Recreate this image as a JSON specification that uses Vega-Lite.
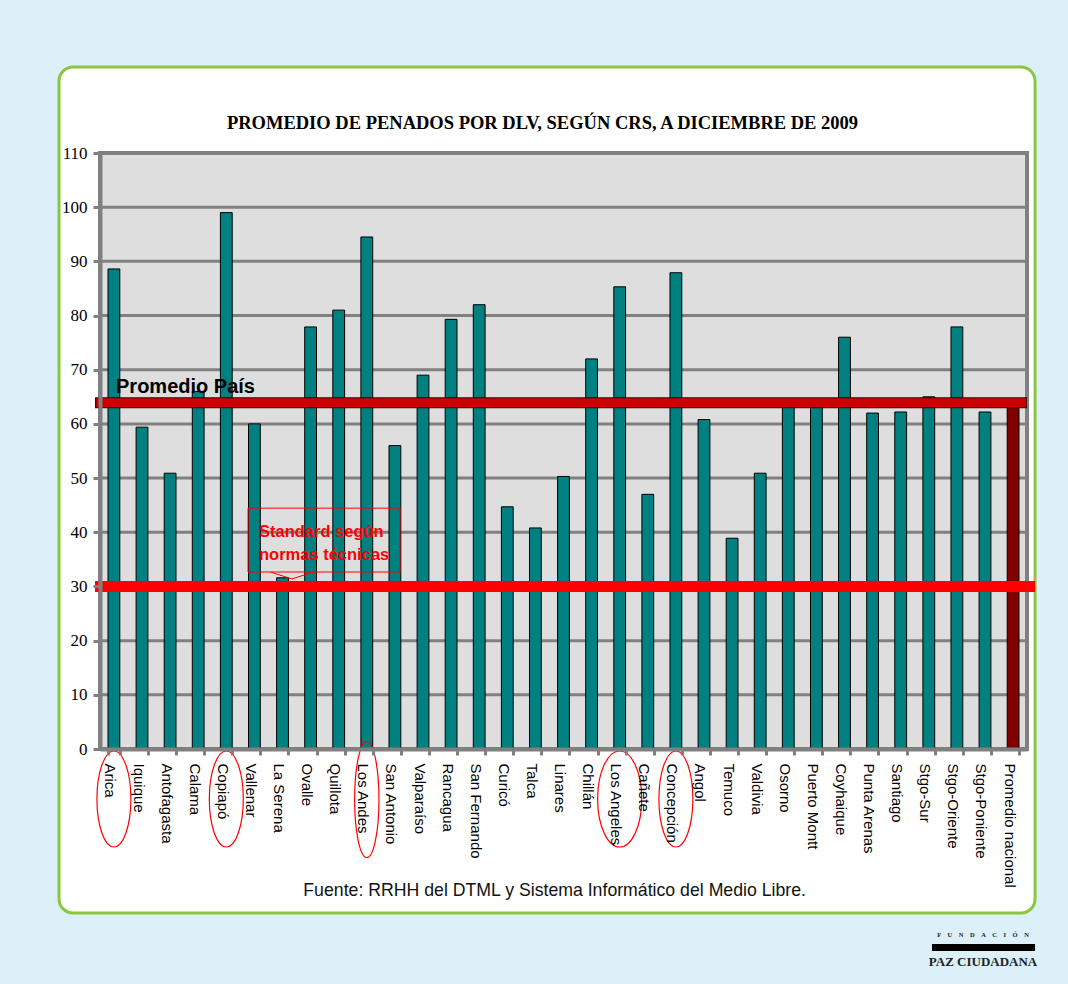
{
  "$schema": "https://vega.github.io/schema/vega-lite/v6.json",
  "width": 927,
  "height": 596,
  "autosize": "none",
  "padding": {"left": 100, "top": 153, "right": 41, "bottom": 235},
  "background": "#DCF0FA",
  "config": {
    "view": {"stroke": null}
  },
  "datasets": {
    "penados": [
      {"ciudad": "Arica", "valor": 88.6},
      {"ciudad": "Iquique", "valor": 59.4},
      {"ciudad": "Antofagasta", "valor": 50.9},
      {"ciudad": "Calama", "valor": 66.0},
      {"ciudad": "Copiapó", "valor": 99.0},
      {"ciudad": "Vallenar", "valor": 60.0},
      {"ciudad": "La Serena", "valor": 31.6},
      {"ciudad": "Ovalle", "valor": 77.9},
      {"ciudad": "Quillota", "valor": 81.0},
      {"ciudad": "Los Andes", "valor": 94.5},
      {"ciudad": "San Antonio", "valor": 56.0},
      {"ciudad": "Valparaíso", "valor": 69.0},
      {"ciudad": "Rancagua", "valor": 79.3},
      {"ciudad": "San Fernando", "valor": 82.0},
      {"ciudad": "Curicó", "valor": 44.7},
      {"ciudad": "Talca", "valor": 40.8},
      {"ciudad": "Linares", "valor": 50.3},
      {"ciudad": "Chillán", "valor": 72.0},
      {"ciudad": "Los Angeles", "valor": 85.3},
      {"ciudad": "Cañete", "valor": 47.0},
      {"ciudad": "Concepción", "valor": 87.9},
      {"ciudad": "Angol", "valor": 60.8},
      {"ciudad": "Temuco", "valor": 38.9},
      {"ciudad": "Valdivia", "valor": 50.9},
      {"ciudad": "Osorno", "valor": 63.5},
      {"ciudad": "Puerto Montt", "valor": 63.5},
      {"ciudad": "Coyhaique", "valor": 76.0},
      {"ciudad": "Punta Arenas", "valor": 62.0},
      {"ciudad": "Santiago", "valor": 62.2},
      {"ciudad": "Stgo-Sur", "valor": 65.0},
      {"ciudad": "Stgo-Oriente", "valor": 77.9},
      {"ciudad": "Stgo-Poniente", "valor": 62.2},
      {"ciudad": "Promedio nacional", "valor": 63.9}
    ],
    "grilla": [
      {"v": 10}, {"v": 20}, {"v": 30}, {"v": 40}, {"v": 50},
      {"v": 60}, {"v": 70}, {"v": 80}, {"v": 90}, {"v": 100}
    ],
    "destacadas": [
      {"ciudad": "Arica"}, {"ciudad": "Copiapó"}, {"ciudad": "Concepción"}
    ],
    "unico": [{}]
  },
  "layer": [
    {
      "data": {"name": "unico"},
      "mark": {"type": "rect", "fill": "#FFFFFF", "stroke": "#8CC63E", "strokeWidth": 3, "cornerRadius": 14},
      "encoding": {
        "x": {"datum": "Arica", "type": "nominal", "bandPosition": -4.15, "title": null},
        "x2": {"datum": "Promedio nacional", "bandPosition": 2.36},
        "y": {"datum": 125.87, "type": "quantitative", "title": null},
        "y2": {"datum": -30.27}
      }
    },
    {
      "data": {"name": "unico"},
      "mark": {"type": "text", "text": "PROMEDIO DE PENADOS POR DLV, SEGÚN CRS, A DICIEMBRE DE 2009", "font": "Liberation Serif", "fontSize": 18.5, "fontWeight": "bold", "color": "#000000", "align": "center", "baseline": "alphabetic"},
      "encoding": {
        "x": {"datum": "Talca", "type": "nominal", "bandPosition": 1.1, "title": null},
        "y": {"datum": 114.43, "type": "quantitative", "title": null}
      }
    },
    {
      "data": {"name": "unico"},
      "mark": {"type": "rect", "fill": "#DEDEDE", "stroke": "#808080", "strokeWidth": 4},
      "encoding": {
        "y": {"datum": 110, "type": "quantitative", "title": null},
        "y2": {"datum": 0}
      }
    },
    {
      "data": {"name": "grilla"},
      "mark": {"type": "rule", "stroke": "#808080", "strokeWidth": 3},
      "encoding": {
        "y": {"field": "v", "type": "quantitative", "title": null}
      }
    },
    {
      "data": {"name": "penados"},
      "mark": {"type": "bar", "stroke": "#000000", "strokeWidth": 1},
      "encoding": {
        "x": {
          "field": "ciudad", "type": "nominal", "sort": null, "title": null,
          "scale": {
            "domain": ["Arica", "Iquique", "Antofagasta", "Calama", "Copiapó", "Vallenar", "La Serena", "Ovalle", "Quillota", "Los Andes", "San Antonio", "Valparaíso", "Rancagua", "San Fernando", "Curicó", "Talca", "Linares", "Chillán", "Los Angeles", "Cañete", "Concepción", "Angol", "Temuco", "Valdivia", "Osorno", "Puerto Montt", "Coyhaique", "Punta Arenas", "Santiago", "Stgo-Sur", "Stgo-Oriente", "Stgo-Poniente", "Promedio nacional"],
            "paddingInner": 0.58,
            "paddingOuter": 0.285
          },
          "axis": {
            "zindex": 1,
            "domainColor": "#808080", "domainWidth": 4,
            "tickColor": "#808080", "tickWidth": 3, "tickSize": 6, "tickBand": "extent",
            "labelAngle": 90, "labelAlign": "left", "labelBaseline": "middle",
            "labelFont": "Liberation Sans", "labelFontSize": 15, "labelColor": "#000000",
            "labelPadding": 8, "labelOffset": -4, "labelOverlap": false, "labelLimit": 0,
            "grid": false
          }
        },
        "y": {
          "field": "valor", "type": "quantitative", "title": null,
          "scale": {"domain": [0, 110], "nice": false},
          "axis": {
            "zindex": 1,
            "values": [0, 10, 20, 30, 40, 50, 60, 70, 80, 90, 100, 110],
            "domainColor": "#808080", "domainWidth": 4,
            "tickColor": "#808080", "tickWidth": 3, "tickSize": 7,
            "labelFont": "Liberation Serif", "labelFontSize": 17, "labelColor": "#000000",
            "labelPadding": 6, "grid": false
          }
        },
        "color": {
          "condition": {"test": "datum.ciudad === 'Promedio nacional'", "value": "#800000"},
          "value": "#008080"
        }
      }
    },
    {
      "data": {"name": "unico"},
      "mark": {"type": "rule", "stroke": "#3A0000", "strokeWidth": 11},
      "encoding": {
        "x": {"datum": "Arica", "type": "nominal", "bandPosition": -1.1, "title": null},
        "x2": {"datum": "Promedio nacional", "bandPosition": 1.68},
        "y": {"datum": 63.9, "type": "quantitative", "title": null}
      }
    },
    {
      "data": {"name": "unico"},
      "mark": {"type": "rule", "stroke": "#CC0000", "strokeWidth": 9},
      "encoding": {
        "x": {"datum": "Arica", "type": "nominal", "bandPosition": -1.0, "title": null},
        "x2": {"datum": "Promedio nacional", "bandPosition": 1.6},
        "y": {"datum": 63.9, "type": "quantitative", "title": null}
      }
    },
    {
      "data": {"name": "unico"},
      "mark": {"type": "rule", "stroke": "#FF0000", "strokeWidth": 11},
      "encoding": {
        "x": {"datum": "Arica", "type": "nominal", "bandPosition": -1.1, "title": null},
        "x2": {"datum": "Promedio nacional", "bandPosition": 2.36},
        "y": {"datum": 30, "type": "quantitative", "title": null}
      }
    },
    {
      "data": {"name": "unico"},
      "mark": {"type": "text", "text": "Promedio País", "font": "Liberation Sans", "fontSize": 20, "fontWeight": "bold", "color": "#000000", "align": "left", "baseline": "alphabetic"},
      "encoding": {
        "x": {"datum": "Arica", "type": "nominal", "bandPosition": 0.68, "title": null},
        "y": {"datum": 65.71, "type": "quantitative", "title": null}
      }
    },
    {
      "data": {"name": "unico"},
      "mark": {"type": "rect", "fill": "transparent", "stroke": "#FF0000", "strokeWidth": 1},
      "encoding": {
        "x": {"datum": "Vallenar", "type": "nominal", "bandPosition": -0.04, "title": null},
        "x2": {"datum": "San Antonio", "bandPosition": 0.93},
        "y": {"datum": 44.45, "type": "quantitative", "title": null},
        "y2": {"datum": 32.67}
      }
    },
    {
      "data": {"name": "unico"},
      "mark": {"type": "point", "shape": "M-1,-0.16L0,0.16L1,-0.16", "filled": false, "stroke": "#FF0000", "strokeWidth": 1, "size": 1849, "opacity": 1},
      "encoding": {
        "x": {"datum": "La Serena", "type": "nominal", "bandPosition": 1.3, "title": null},
        "y": {"datum": 32.02, "type": "quantitative", "title": null}
      }
    },
    {
      "data": {"name": "unico"},
      "mark": {"type": "text", "text": ["Standard según", "normas técnicas"], "font": "Liberation Sans", "fontSize": 16.5, "fontWeight": "bold", "color": "#FF0000", "align": "left", "baseline": "alphabetic", "lineHeight": 23},
      "encoding": {
        "x": {"datum": "Vallenar", "type": "nominal", "bandPosition": 0.89, "title": null},
        "y": {"datum": 39.13, "type": "quantitative", "title": null}
      }
    },
    {
      "data": {"name": "destacadas"},
      "mark": {"type": "point", "shape": "M0,-1A0.354,1 0 1,1 0,1A0.354,1 0 1,1 0,-1Z", "filled": false, "stroke": "#FF0000", "strokeWidth": 1.2, "size": 9216, "opacity": 1},
      "encoding": {
        "x": {"field": "ciudad", "type": "nominal", "title": null},
        "y": {"datum": -9.23, "type": "quantitative", "title": null}
      }
    },
    {
      "data": {"values": [{"ciudad": "Los Angeles"}]},
      "mark": {"type": "point", "shape": "M0,-1A0.46,1 0 1,1 0,1A0.46,1 0 1,1 0,-1Z", "filled": false, "stroke": "#FF0000", "strokeWidth": 1.2, "size": 9216, "opacity": 1},
      "encoding": {
        "x": {"field": "ciudad", "type": "nominal", "title": null},
        "y": {"datum": -9.23, "type": "quantitative", "title": null}
      }
    },
    {
      "data": {"values": [{"ciudad": "Los Andes"}]},
      "mark": {"type": "point", "shape": "M0,-1A0.21,1 0 1,1 0,1A0.21,1 0 1,1 0,-1Z", "filled": false, "stroke": "#FF0000", "strokeWidth": 1.2, "size": 13456, "opacity": 1},
      "encoding": {
        "x": {"field": "ciudad", "type": "nominal", "title": null},
        "y": {"datum": -9.32, "type": "quantitative", "title": null}
      }
    },
    {
      "data": {"name": "unico"},
      "mark": {"type": "text", "text": "Fuente: RRHH del DTML y Sistema Informático del Medio Libre.", "font": "Liberation Sans", "fontSize": 17.7, "color": "#111111", "align": "center", "baseline": "alphabetic"},
      "encoding": {
        "x": {"datum": "Linares", "type": "nominal", "bandPosition": -0.25, "title": null},
        "y": {"datum": -27.13, "type": "quantitative", "title": null}
      }
    },
    {
      "data": {"name": "unico"},
      "mark": {"type": "text", "text": "F\u2003U\u2003N\u2003D\u2003A\u2003C\u2003I\u2003Ó\u2003N", "font": "Liberation Serif", "fontSize": 6.5, "fontWeight": "bold", "color": "#222222", "align": "center", "baseline": "alphabetic"},
      "encoding": {
        "x": {"datum": "Stgo-Poniente", "type": "nominal", "bandPosition": 0.33, "title": null},
        "y": {"datum": -34.7, "type": "quantitative", "title": null}
      }
    },
    {
      "data": {"name": "unico"},
      "mark": {"type": "rect", "fill": "#000000"},
      "encoding": {
        "x": {"datum": "Stgo-Oriente", "type": "nominal", "bandPosition": -1.61, "title": null},
        "x2": {"datum": "Promedio nacional", "bandPosition": 2.36},
        "y": {"datum": -35.99, "type": "quantitative", "title": null},
        "y2": {"datum": -37.28}
      }
    },
    {
      "data": {"name": "unico"},
      "mark": {"type": "text", "text": "PAZ CIUDADANA", "font": "Liberation Serif", "fontSize": 13, "fontWeight": "bold", "color": "#222222", "align": "center", "baseline": "alphabetic"},
      "encoding": {
        "x": {"datum": "Stgo-Poniente", "type": "nominal", "bandPosition": 0.33, "title": null},
        "y": {"datum": -40.05, "type": "quantitative", "title": null}
      }
    }
  ]
}
